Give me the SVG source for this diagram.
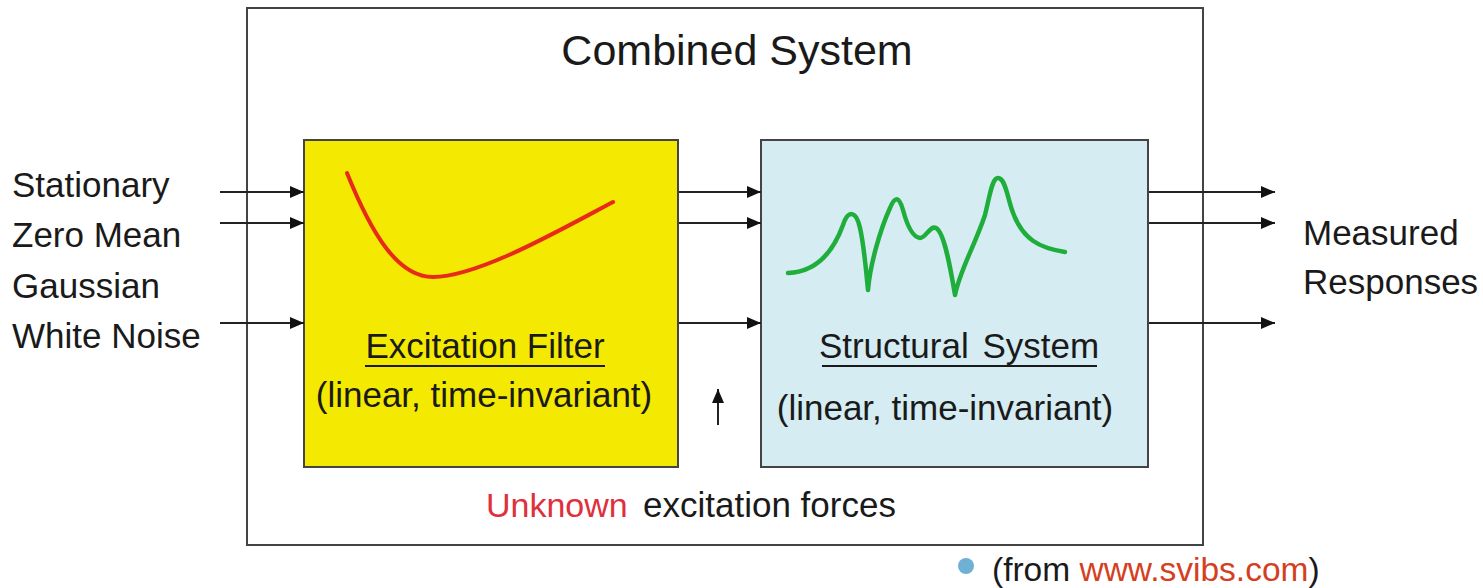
<svg xmlns="http://www.w3.org/2000/svg" width="1483" height="588" viewBox="0 0 1483 588">
  <style>
    .t { font-family: "Liberation Sans", Arial, sans-serif; fill: #1a1a1a; }
    .box { stroke: #444; stroke-width: 2; }
    .conn { stroke: #222; stroke-width: 2; fill: none; marker-end: url(#arrow); }
  </style>
  <defs>
    <marker id="arrow" viewBox="0 0 14 12" refX="14" refY="6" markerWidth="14" markerHeight="12" markerUnits="userSpaceOnUse" orient="auto">
      <path d="M0,0 L14,6 L0,12 Z" fill="#111"/>
    </marker>
  </defs>

  <rect width="1483" height="588" fill="#ffffff"/>

  <!-- enclosing system -->
  <g id="combined-system">
    <rect x="247" y="8" width="956" height="537" fill="#ffffff" class="box"/>
    <text class="t" x="737" y="65" font-size="43" text-anchor="middle">Combined System</text>
  </g>

  <!-- input description -->
  <g id="input-label" class="t" font-size="35">
    <text x="12" y="197">Stationary</text>
    <text x="12" y="247">Zero Mean</text>
    <text x="12" y="298">Gaussian</text>
    <text x="12" y="348">White Noise</text>
  </g>

  <!-- excitation filter block -->
  <g id="excitation-filter">
    <rect x="304" y="140" width="374" height="327" fill="#f4e900" class="box"/>
    <path d="M347,173 C372,235 398,277 433,277 C478,277 560,230 613,202" fill="none" stroke="#e82a1a" stroke-width="4" stroke-linecap="round"/>
    <text class="t" x="485" y="358" font-size="35" text-anchor="middle">Excitation Filter</text>
    <line x1="365" y1="366" x2="605" y2="366" stroke="#1a1a1a" stroke-width="2"/>
    <text class="t" x="484" y="407" font-size="35" text-anchor="middle">(linear, time-invariant)</text>
  </g>

  <!-- structural system block -->
  <g id="structural-system">
    <rect x="761" y="140" width="387" height="327" fill="#d4ecf2" class="box"/>
    <path d="M788,273 C815,272 832,255 843,225 C848,210 856,210 860,228 C864,245 866,270 868,290 C870,265 880,230 890,208 C895,196 899,196 903,210 C907,225 912,237 920,238 C926,238 930,225 936,228 C944,232 950,265 955,295 C960,270 975,245 985,215 C990,195 992,178 998,178 C1005,178 1007,195 1012,210 C1022,240 1040,248 1065,252" fill="none" stroke="#1fae3c" stroke-width="4.5" stroke-linecap="round" stroke-linejoin="round"/>
    <text class="t" x="959" y="358" font-size="35" text-anchor="middle" word-spacing="4">Structural System</text>
    <line x1="822" y1="366" x2="1097" y2="366" stroke="#1a1a1a" stroke-width="2"/>
    <text class="t" x="945" y="420" font-size="35" text-anchor="middle">(linear, time-invariant)</text>
  </g>

  <!-- output description -->
  <g id="output-label" class="t" font-size="35">
    <text x="1303" y="245">Measured</text>
    <text x="1303" y="294">Responses</text>
  </g>

  <!-- unknown forces label -->
  <g id="forces-label" class="t" font-size="35">
    <text x="486" y="517" style="fill:#e0303c" font-size="34">Unknown</text>
    <text x="643" y="517">excitation forces</text>
  </g>

  <!-- source note -->
  <g id="source-note">
    <circle cx="966" cy="566" r="8" fill="#6fb0d5"/>
    <text class="t" x="992" y="581" font-size="33.5">(from <tspan style="fill:#d4401e">www.svibs.com</tspan>)</text>
  </g>

  <!-- connectors -->
  <g id="connectors">
    <line class="conn" x1="220" y1="192" x2="304" y2="192"/>
    <line class="conn" x1="220" y1="223" x2="304" y2="223"/>
    <line class="conn" x1="220" y1="323" x2="304" y2="323"/>
    <line class="conn" x1="679" y1="192" x2="761" y2="192"/>
    <line class="conn" x1="679" y1="223" x2="761" y2="223"/>
    <line class="conn" x1="679" y1="323" x2="761" y2="323"/>
    <line class="conn" x1="1149" y1="192" x2="1275" y2="192"/>
    <line class="conn" x1="1149" y1="223" x2="1275" y2="223"/>
    <line class="conn" x1="1149" y1="323" x2="1275" y2="323"/>
    <line class="conn" x1="718" y1="425" x2="718" y2="389"/>
  </g>
</svg>
